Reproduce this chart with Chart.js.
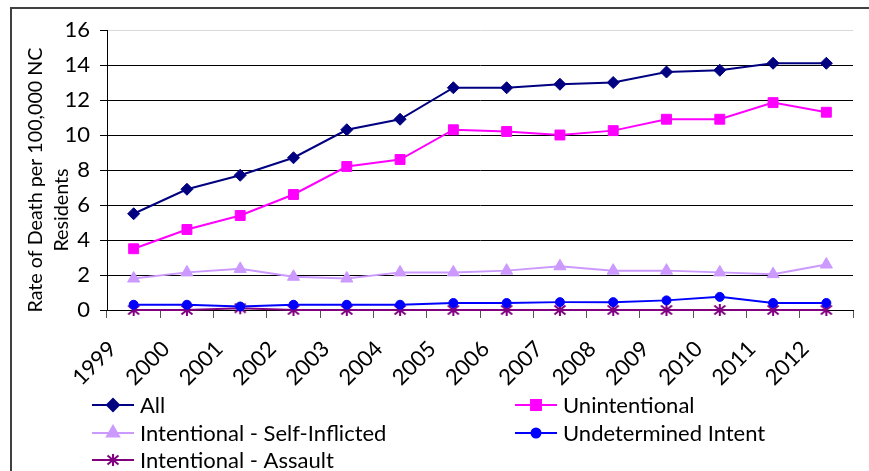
<!DOCTYPE html>
<html>
<head>
<meta charset="utf-8">
<script src="https://cdn.jsdelivr.net/npm/chart.js@4.4.1/dist/chart.umd.min.js"></script>
<style>
html,body{margin:0;padding:0;background:#fff;}
#wrap{width:869px;height:471px;position:relative;}
</style>
</head>
<body>
<div id="wrap"><canvas id="c" width="869" height="471"></canvas></div>
<script>
const years = ['1999','2000','2001','2002','2003','2004','2005','2006','2007','2008','2009','2010','2011','2012'];
const allRate = [5.5, 6.9, 7.7, 8.7, 10.3, 10.9, 12.7, 12.7, 12.9, 13.0, 13.6, 13.7, 14.1, 14.1];
const unintentional = [3.5, 4.6, 5.4, 6.6, 8.2, 8.6, 10.3, 10.2, 10.0, 10.25, 10.9, 10.9, 11.85, 11.3];
const selfInflicted = [1.8, 2.15, 2.35, 1.9, 1.8, 2.15, 2.15, 2.25, 2.5, 2.25, 2.25, 2.15, 2.05, 2.6];
const undetermined = [0.3, 0.3, 0.2, 0.3, 0.3, 0.3, 0.4, 0.4, 0.45, 0.45, 0.55, 0.75, 0.4, 0.4];
const assault = [0, 0, 0.1, 0, 0, 0, 0, 0, 0, 0, 0, 0, 0, 0];
const seriesLabels = ['All','Unintentional','Intentional - Self-Inflicted','Undetermined Intent','Intentional - Assault'];
const yTitleLines = ['Rate of Death per 100,000 NC','Residents'];

const FONT = 'Lato';
const FS = 22;
const TITLE_FS = 19.7;

// asterisk marker
const star = document.createElement('canvas');
star.width = 14; star.height = 14;
(function(){
  const g = star.getContext('2d');
  g.strokeStyle = '#800080'; g.lineWidth = 2;
  g.lineCap = 'butt';
  g.beginPath();
  g.moveTo(7,1); g.lineTo(7,13);
  g.moveTo(1.5,2.5); g.lineTo(12.5,11.5);
  g.moveTo(12.5,2.5); g.lineTo(1.5,11.5);
  g.stroke();
})();

const borderPlugin = {
  id:'borderPlugin',
  beforeDraw(chart){
    const ctx = chart.ctx;
    ctx.save();
    ctx.fillStyle = '#fff';
    ctx.fillRect(0,0,chart.width,chart.height);
    ctx.strokeStyle = '#404040';
    ctx.lineWidth = 2;
    ctx.strokeRect(11,8,900,520);
    ctx.restore();
  }
};

const yTitlePlugin = {
  id:'yTitlePlugin',
  afterDraw(chart){
    const ctx = chart.ctx;
    ctx.save();
    ctx.fillStyle = '#000';
    ctx.font = TITLE_FS + 'px ' + FONT;
    ctx.textAlign = 'center';
    ctx.textBaseline = 'middle';
    const pos = [[36,180],[62,210]];
    yTitleLines.forEach((t,i)=>{
      ctx.save();
      ctx.translate(pos[i][0], pos[i][1]);
      ctx.rotate(-Math.PI/2);
      ctx.fillText(t,0,0);
      ctx.restore();
    });
    ctx.restore();
  }
};

const legendPlugin = {
  id:'legendPlugin',
  afterDraw(chart){
    const ctx = chart.ctx;
    const colX = [92, 515];
    const rowY = [405, 433, 460];
    chart.data.datasets.forEach((ds,i)=>{
      const x = colX[i%2], y = rowY[Math.floor(i/2)];
      ctx.save();
      ctx.strokeStyle = ds.borderColor;
      ctx.lineWidth = ds.borderWidth;
      ctx.beginPath();
      ctx.moveTo(x,y); ctx.lineTo(x+42,y);
      ctx.stroke();
      ctx.fillStyle = ds.pointBackgroundColor;
      ctx.strokeStyle = ds.borderColor;
      Chart.helpers.drawPoint(ctx, {pointStyle: ds.pointStyle, radius: ds.pointRadius, rotation:0, borderWidth:1}, x+21, y);
      ctx.fillStyle = '#000';
      ctx.font = FS + 'px ' + FONT;
      ctx.textAlign = 'left';
      ctx.textBaseline = 'middle';
      ctx.fillText(ds.label, x+48, y+1);
      ctx.restore();
    });
  }
};

function mk(label, data, color, style, radius, width){
  return {label, data, borderColor: color, backgroundColor: color, pointBackgroundColor: color,
    pointBorderColor: color, pointStyle: style, pointRadius: radius, pointHoverRadius: radius,
    pointBorderWidth: 1, borderWidth: width, tension: 0, clip: false};
}

new Chart(document.getElementById('c'), {
  type:'line',
  data:{
    labels: years,
    datasets:[
      mk(seriesLabels[0], allRate, '#000080', 'rectRot', 6, 2),
      mk(seriesLabels[1], unintentional, '#FF00FF', 'rect', 7, 2),
      mk(seriesLabels[2], selfInflicted, '#CC99FF', 'triangle', 7, 2),
      mk(seriesLabels[3], undetermined, '#0000FF', 'circle', 4.5, 2),
      mk(seriesLabels[4], assault, '#800080', star, 7, 2)
    ]
  },
  options:{
    responsive:false,
    animation:false,
    devicePixelRatio:1,
    layout:{padding:{left:0,right:16,top:30,bottom:0}},
    plugins:{legend:{display:false}, tooltip:{enabled:false}},
    scales:{
      x:{
        offset:true,
        grid:{offset:true, drawOnChartArea:false, drawTicks:true, tickLength:8, color:'#555', tickColor:'#555'},
        border:{color:'#000', width:1},
        ticks:{color:'#000', font:{family:FONT, size:FS}, minRotation:45, maxRotation:45, padding:18, labelOffset:-21, autoSkip:false},
        afterFit(s){ s.height = 161; }
      },
      y:{
        min:0, max:16,
        ticks:{stepSize:2, color:'#000', font:{family:FONT, size:FS}, padding:10},
        grid:{color:(c)=> c.tick && c.tick.value===16 ? '#d9d9d9' : '#000', tickColor:'#000', tickLength:7, lineWidth:1},
        border:{color:'#000', width:1},
        afterFit(s){ s.width = 107; }
      }
    }
  },
  plugins:[borderPlugin, yTitlePlugin, legendPlugin]
});
</script>
</body>
</html>
